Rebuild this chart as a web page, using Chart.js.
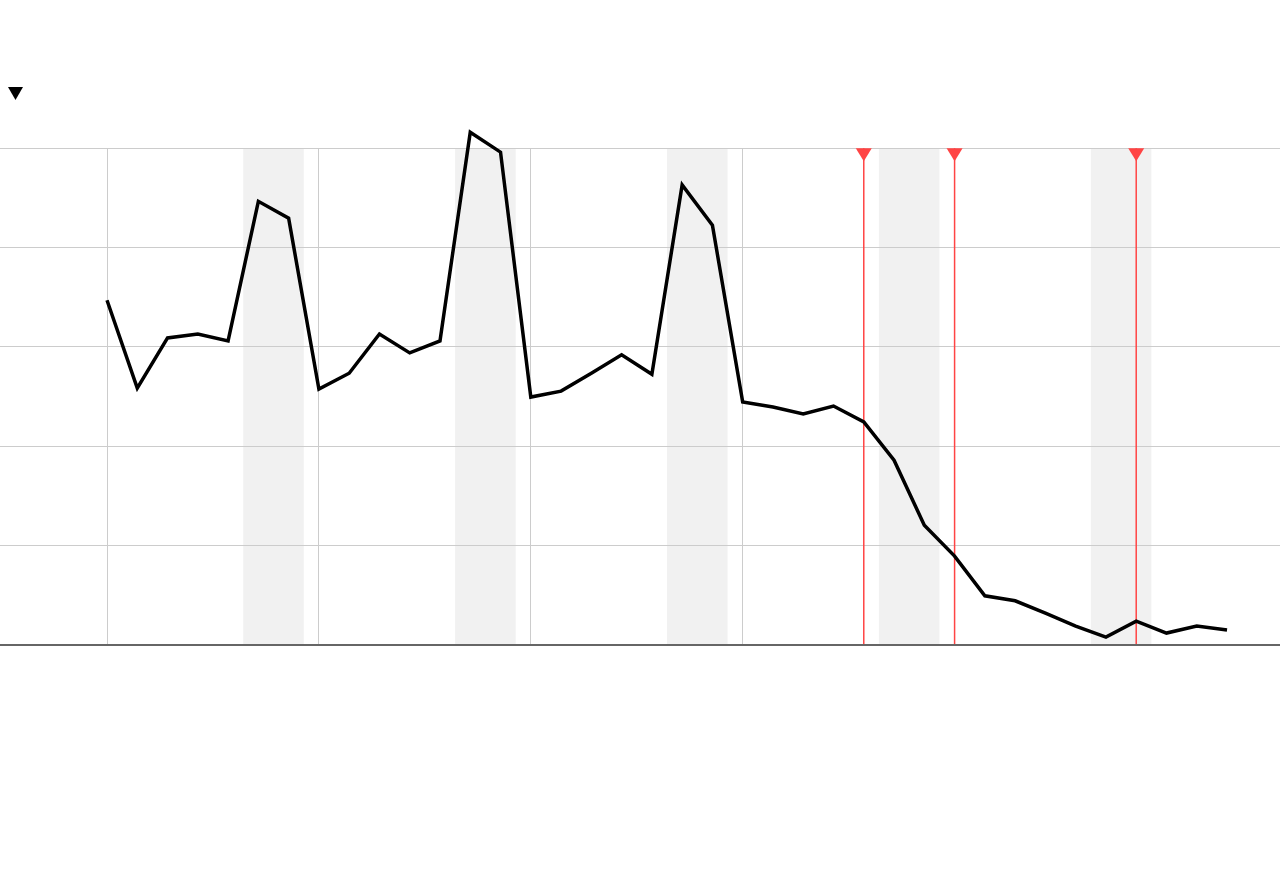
<!DOCTYPE html>
<html>
<head>
<meta charset="utf-8">
<script src="https://cdn.jsdelivr.net/npm/chart.js@4/dist/chart.umd.min.js"></script>
<style>
html,body{margin:0;padding:0;background:#fff;}
#wrap{width:1280px;height:888px;}
canvas{background:#fff;}
</style>
</head>
<body>
<div id="wrap"><canvas id="c" width="1280" height="888"></canvas></div>
<script>
// day index of each observation (0..37)
const days = [0,1,2,3,4,5,6,7,8,9,10,11,12,13,14,15,16,17,18,19,20,21,22,23,24,25,26,27,28,29,30,31,32,33,34,35,36,37];
const values = [69.4,51.7,61.8,62.6,61.2,89.3,85.9,51.5,54.7,62.6,58.8,61.2,103.2,99.2,49.9,51.1,54.7,58.4,54.5,92.6,84.5,48.9,47.9,46.5,48.1,44.9,37.2,24.1,17.9,9.9,8.9,6.4,3.8,1.6,4.8,2.4,3.8,3.0];
// weekend bands (start,end in day index)
const bandStarts = [4.5,11.5,18.5,25.5,32.5];
const bandEnds = [6.5,13.5,20.5,27.5,34.5];
// weekly vertical grid lines
const weekLines = [0,7,14,21];
// event markers (day index)
const events = [25,28,34];

const gridTop = 100;

const decor = {
  id:'decor',
  beforeDraw(chart){
    const {ctx, scales:{x,y}} = chart;
    const t = y.getPixelForValue(gridTop), b = y.getPixelForValue(0);
    ctx.save();
    ctx.fillStyle = '#f1f1f1';
    bandStarts.forEach((s,i)=>{
      const x0 = x.getPixelForValue(s), x1 = x.getPixelForValue(bandEnds[i]);
      ctx.fillRect(x0, t, x1-x0, b-t);
    });
    ctx.restore();
  },
  beforeDatasetsDraw(chart){
    const {ctx, scales:{x,y}} = chart;
    const t = y.getPixelForValue(gridTop), b = y.getPixelForValue(0);
    ctx.save();
    ctx.strokeStyle = '#cccccc';
    ctx.lineWidth = 1;
    weekLines.forEach(d=>{
      const px = Math.floor(x.getPixelForValue(d)) + 0.5;
      ctx.beginPath(); ctx.moveTo(px,t); ctx.lineTo(px,b-1); ctx.stroke();
    });
    ctx.strokeStyle = '#ff4444';
    ctx.fillStyle = '#ff4444';
    ctx.lineWidth = 1.5;
    events.forEach(d=>{
      const px = x.getPixelForValue(d);
      ctx.beginPath(); ctx.moveTo(px,t); ctx.lineTo(px,b-1); ctx.stroke();
      ctx.beginPath(); ctx.moveTo(px-8,t); ctx.lineTo(px+8,t); ctx.lineTo(px,t+13); ctx.closePath(); ctx.fill();
    });
    // legend-like marker
    ctx.fillStyle = '#000';
    ctx.beginPath(); ctx.moveTo(8,87); ctx.lineTo(23,87); ctx.lineTo(15.5,100); ctx.closePath(); ctx.fill();
    ctx.restore();
  }
};

new Chart(document.getElementById('c'), {
  type:'line',
  data:{
    datasets:[{
      data: days.map((d,i)=>({x:d, y:values[i]})),
      borderColor:'#000',
      borderWidth:3.5,
      pointRadius:0,
      tension:0,
      borderJoinStyle:'miter',
      fill:false
    }]
  },
  options:{
    responsive:false,
    animation:false,
    layout:{padding:{top:98.5,bottom:243,left:0,right:0}},
    plugins:{legend:{display:false},tooltip:{enabled:false}},
    scales:{
      x:{type:'linear',min:-3.535,max:38.75,display:false},
      y:{
        min:0,max:110,
        ticks:{display:false,stepSize:20},
        border:{display:false},
        afterBuildTicks(ax){ ax.ticks = ax.ticks.filter(t=>t.value<=gridTop); },
        grid:{
          drawTicks:false,
          color:(c)=> c.tick && c.tick.value===0 ? '#666666' : '#cccccc',
          lineWidth:(c)=> c.tick && c.tick.value===0 ? 2 : 1
        }
      }
    }
  },
  plugins:[decor]
});
</script>
</body>
</html>
